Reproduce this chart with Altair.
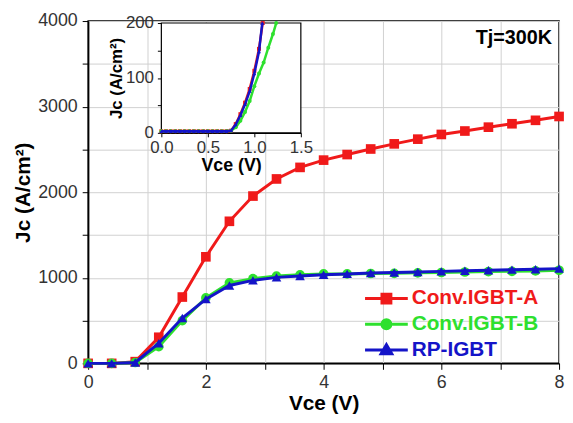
import altair as alt
import pandas as pd

FONT = "Liberation Sans"

series = ["Conv.IGBT-A", "Conv.IGBT-B", "RP-IGBT"]
colors = ["#f01a1a", "#2ee02e", "#1414c8"]
shapes = ["square", "circle", "triangle-up"]

# main curves
main_vce = [0.0, 0.4, 0.8, 1.2, 1.6, 2.0, 2.4, 2.8, 3.2, 3.6, 4.0, 4.4, 4.8, 5.2, 5.6, 6.0, 6.4, 6.8, 7.2, 7.6, 8.0]
jc_a = [0, 0, 20, 305, 775, 1245, 1660, 1955, 2155, 2290, 2375, 2440, 2505, 2565, 2620, 2675, 2715, 2760, 2800, 2840, 2885]
jc_b = [0, 0, 10, 195, 500, 765, 940, 990, 1020, 1035, 1045, 1045, 1050, 1052, 1058, 1062, 1068, 1072, 1075, 1080, 1088]
jc_rp = [0, 0, 10, 235, 530, 750, 910, 970, 1005, 1020, 1035, 1045, 1055, 1062, 1068, 1075, 1082, 1088, 1095, 1100, 1107]

# inset curves
inset_vce_a = [0.0, 0.05, 0.1, 0.15, 0.2, 0.25, 0.3, 0.35, 0.4, 0.45, 0.5, 0.55, 0.6, 0.65, 0.7, 0.75, 0.8, 0.85, 0.9, 0.95, 1.0, 1.05, 1.09]
inset_jc_a = [3, 3, 3, 3, 3, 3, 3, 3, 3, 3, 3, 3, 3, 3, 3, 4, 16, 34, 55, 80, 113, 153, 200]
inset_vce_b = [0.0, 0.05, 0.1, 0.15, 0.2, 0.25, 0.3, 0.35, 0.4, 0.45, 0.5, 0.55, 0.6, 0.65, 0.7, 0.75, 0.8, 0.85, 0.9, 0.95, 1.0, 1.05, 1.1, 1.15, 1.2, 1.235]
inset_jc_b = [3, 3, 3, 3, 3, 3, 3, 3, 3, 3, 3, 3, 3, 3, 3, 4, 10, 22, 38, 58, 85, 108, 128, 155, 180, 200]
inset_vce_rp = [0.0, 0.05, 0.1, 0.15, 0.2, 0.25, 0.3, 0.35, 0.4, 0.45, 0.5, 0.55, 0.6, 0.65, 0.7, 0.75, 0.8, 0.85, 0.9, 0.95, 1.0, 1.05, 1.085]
inset_jc_rp = [3, 3, 3, 3, 3, 3, 3, 3, 3, 3, 3, 3, 3, 3, 3, 4, 15, 32, 52, 76, 108, 148, 200]

main_x_domain = [0, 8]
main_y_domain = [0, 4000]
inset_x_domain = [0, 1.5]
inset_y_domain = [0, 200]

annot_x = [7.88]
annot_y = [3800]
annot_text = ["Tj=300K"]

W, H = 476, 346
INSET_X_RANGE = [74, 215]
INSET_Y_RANGE = [113, 2]

main_data = [
    pd.DataFrame({"vce": main_vce, "jc": jc_a, "series": series[0]}),
    pd.DataFrame({"vce": main_vce, "jc": jc_b, "series": series[1]}),
    pd.DataFrame({"vce": main_vce, "jc": jc_rp, "series": series[2]}),
]
inset_data = [
    pd.DataFrame({"vce": inset_vce_a, "jc": inset_jc_a, "series": series[0]}),
    pd.DataFrame({"vce": inset_vce_b, "jc": inset_jc_b, "series": series[1]}),
    pd.DataFrame({"vce": inset_vce_rp, "jc": inset_jc_rp, "series": series[2]}),
]


def main_x(field="vce"):
    return alt.X(
        f"{field}:Q",
        scale=alt.Scale(domain=main_x_domain, nice=False, zero=False),
        axis=alt.Axis(
            title="Vce (V)", values=list(range(0, 9)),
            labelExpr="datum.value % 2 === 0 ? datum.label : ''",
            grid=True, gridColor="#d0d0d0", gridWidth=1,
            tickSize=6, tickColor="black", labelPadding=4, labelFlush=False,
            labelFontSize=18, labelFont=FONT, labelColor="#333333",
            titleFontSize=21, titleFont=FONT, titleFontWeight="bold", titleColor="black",
            titlePadding=2, domainColor="black", domainWidth=1.5,
        ),
    )


def main_y(field="jc"):
    return alt.Y(
        f"{field}:Q",
        scale=alt.Scale(domain=main_y_domain, nice=False),
        axis=alt.Axis(
            title="Jc (A/cm²)", values=list(range(0, 4001, 500)),
            labelExpr="datum.value % 1000 === 0 ? datum.label : ''",
            format="d",
            grid=True, gridColor="#d0d0d0", gridWidth=1,
            tickSize=6, tickColor="black", labelPadding=5,
            labelFontSize=18, labelFont=FONT, labelColor="#333333",
            titleFontSize=21, titleFont=FONT, titleFontWeight="bold", titleColor="black",
            titlePadding=4, domainColor="black", domainWidth=1.5,
        ),
    )


def inset_x(field="vce"):
    return alt.X(
        f"{field}:Q",
        scale=alt.Scale(domain=inset_x_domain, range=INSET_X_RANGE, nice=False, zero=False),
        axis=alt.Axis(
            orient="bottom", offset=-(H - INSET_Y_RANGE[0]),
            title="Vce (V)", values=[0, 0.5, 1.0, 1.5], format=".1f",
            grid=False, tickSize=4, tickColor="black", labelPadding=3, labelFlush=False,
            labelFontSize=17, labelFont=FONT, labelColor="#333333",
            titleFontSize=18, titleFont=FONT, titleFontWeight="bold", titleColor="black",
            titlePadding=1, domainColor="black", domainWidth=1.2,
        ),
    )


def inset_y(field="jc"):
    return alt.Y(
        f"{field}:Q",
        scale=alt.Scale(domain=inset_y_domain, range=INSET_Y_RANGE, nice=False),
        axis=alt.Axis(
            orient="left", offset=-INSET_X_RANGE[0],
            title="Jc (A/cm²)", values=[0, 50, 100, 150, 200],
            labelExpr="datum.value % 100 === 0 ? datum.label : ''",
            grid=False, tickSize=4, tickColor="black", labelPadding=4,
            labelFontSize=17, labelFont=FONT, labelColor="#333333",
            titleFontSize=17, titleFont=FONT, titleFontWeight="bold", titleColor="black",
            titlePadding=0, domainColor="black", domainWidth=1.2,
        ),
    )


main_layers = []
for df, col, shp in zip(main_data, colors, shapes):
    main_layers.append(
        alt.Chart(df).mark_line(color=col, strokeWidth=3).encode(x=main_x(), y=main_y())
    )
    main_layers.append(
        alt.Chart(df).mark_point(shape=shp, filled=True, color=col, size=95, opacity=1)
        .encode(x=main_x(), y=main_y())
    )

annot = alt.Chart(pd.DataFrame({"x": annot_x, "y": annot_y, "t": annot_text})).mark_text(
    align="right", baseline="middle", fontSize=20, fontWeight="bold", font=FONT, color="black"
).encode(x=main_x("x"), y=main_y("y"), text="t:N")

paths = [
    "M-3.6,0H3.6M-0.75,-0.75H0.75V0.75H-0.75Z",
    "M-3.6,0H3.6M0.75,0A0.75,0.75,0,1,1,-0.75,0A0.75,0.75,0,1,1,0.75,0Z",
    "M-3.6,0H3.6M0,-0.9L0.9,0.65H-0.9Z",
]
label_color_expr = (
    f"datum.label == '{series[0]}' ? '{colors[0]}' : "
    f"datum.label == '{series[1]}' ? '{colors[1]}' : '{colors[2]}'"
)


def leg():
    return alt.Legend(
        title=None, orient="none", legendX=291, legendY=270,
        symbolSize=144, symbolStrokeWidth=3, symbolOpacity=1,
        labelFont=FONT, labelFontSize=21, labelFontWeight="bold",
        labelColor=alt.ExprRef(label_color_expr), labelOffset=15,
        rowPadding=4, padding=0,
    )


legend_layer = alt.Chart(pd.DataFrame({"series": series})).transform_filter("false").mark_point(
    filled=True
).encode(
    fill=alt.Fill("series:N", scale=alt.Scale(domain=series, range=colors), legend=leg()),
    stroke=alt.Stroke("series:N", scale=alt.Scale(domain=series, range=colors), legend=leg()),
    shape=alt.Shape("series:N", scale=alt.Scale(domain=series, range=paths), legend=leg()),
)

main = alt.layer(*main_layers, annot, legend_layer)

frame_df = pd.DataFrame({"x0": [inset_x_domain[0]], "x1": [inset_x_domain[1]],
                         "y0": [inset_y_domain[0]], "y1": [inset_y_domain[1]]})
inset_bg = alt.Chart(frame_df).mark_rect(fill="white", stroke="black", strokeWidth=1.2).encode(
    x=inset_x("x0"), x2="x1:Q", y=inset_y("y0"), y2="y1:Q"
)
inset_layers = [inset_bg]
for df, col, shp in zip(inset_data, colors, shapes):
    inset_layers.append(
        alt.Chart(df).mark_line(color=col, strokeWidth=2.5).encode(x=inset_x(), y=inset_y())
    )
    inset_layers.append(
        alt.Chart(df).mark_point(shape=shp, filled=True, color=col, size=16, opacity=1)
        .encode(x=inset_x(), y=inset_y())
    )
inset = alt.layer(*inset_layers)

chart = (
    alt.layer(main, inset)
    .resolve_scale(x="independent", y="independent")
    .properties(
        width=W, height=H,
        autosize=alt.AutoSizeParams(type="none"),
        padding={"left": 81, "top": 11, "right": 6, "bottom": 50},
        background="white",
    )
    .configure_view(stroke="black", strokeWidth=1.5)
)

chart.save("out.html", embed_options={"renderer": "svg", "actions": False})
